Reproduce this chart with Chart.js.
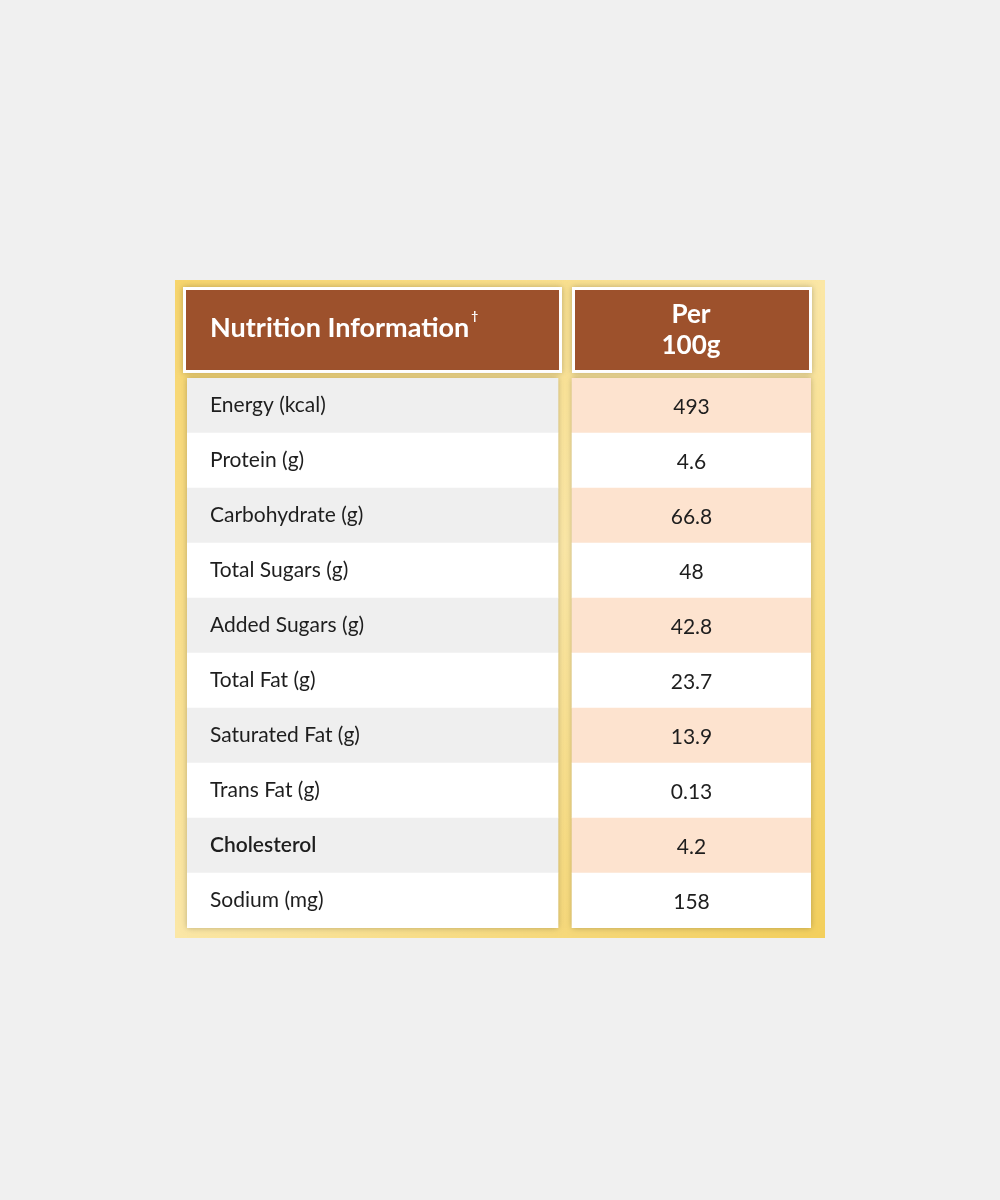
<!DOCTYPE html>
<html>
<head>
<meta charset="utf-8">
<script src="https://cdn.jsdelivr.net/npm/chart.js@4"></script>
<style>
  html, body { margin: 0; background: #f0f0f0; width: 1000px; height: 1200px; }
  #wrap { position: absolute; left: 175px; top: 280px; width: 650px; height: 658px; }
</style>
</head>
<body>
<div id="wrap"><canvas id="nutritionChart" width="650" height="658"></canvas></div>
<script>
const nutrients = [
    "Energy (kcal)", "Protein (g)", "Carbohydrate (g)", "Total Sugars (g)",
    "Added Sugars (g)", "Total Fat (g)", "Saturated Fat (g)", "Trans Fat (g)",
    "Cholesterol", "Sodium (mg)"
];
const per100g = ["493", "4.6", "66.8", "48", "42.8", "23.7", "13.9", "0.13", "4.2", "158"];
const headers = ["Nutrition Information", "Per\n100g"];

const leftColors = nutrients.map((n, i) => i % 2 === 0 ? "#efefef" : "#ffffff");
const rightColors = nutrients.map((n, i) => i % 2 === 0 ? "#fde3cf" : "#ffffff");

const tablePlugin = {
    id: "tablePlugin",
    beforeDraw(chart) {
        const c = chart.ctx;
        const g = c.createLinearGradient(0, 0, chart.width, chart.height);
        g.addColorStop(0, "#f7d56c");
        g.addColorStop(0.5, "#fbe7a6");
        g.addColorStop(1, "#f3cf5c");
        c.fillStyle = g;
        c.fillRect(0, 0, chart.width, chart.height);
        // header boxes
        c.save();
        c.shadowColor = "rgba(0,0,0,0.25)";
        c.shadowBlur = 6;
        c.fillStyle = "#ffffff";
        c.fillRect(8, 7, 379, 86);
        c.fillRect(397, 7, 240, 86);
        c.restore();
        c.fillStyle = "#9d512c";
        c.fillRect(11, 10, 373, 80);
        c.fillRect(400, 10, 234, 80);
        // shadow behind body columns
        c.save();
        c.shadowColor = "rgba(0,0,0,0.25)";
        c.shadowBlur = 6;
        const area = chart.chartArea;
        c.fillStyle = "#ffffff";
        c.fillRect(area.left, area.top, 371, area.bottom - area.top);
        c.fillRect(area.left + 385, area.top, 239, area.bottom - area.top);
        c.restore();
    },
    afterDraw(chart) {
        const c = chart.ctx;
        const y = chart.scales.y;
        const x = chart.scales.x;
        c.fillStyle = "#ffffff";
        c.font = "bold 27px Lato";
        c.textBaseline = "middle";
        c.textAlign = "left";
        c.fillText(headers[0], 35, 48);
        const w = c.measureText(headers[0]).width;
        c.font = "bold 12px Lato";
        c.fillText("\u2020", 35 + w + 2, 36);
        c.font = "bold 26px Lato";
        c.textAlign = "center";
        const lines = headers[1].split("\n");
        c.fillText(lines[0], 516, 35);
        c.fillText(lines[1], 516, 66);
        c.fillStyle = "#1e1e1e";
        nutrients.forEach((n, i) => {
            const py = y.getPixelForValue(i);
            c.font = (n === "Cholesterol" ? "600 " : "") + "21px Lato";
            c.textAlign = "left";
            c.fillText(n, x.getPixelForValue(0) + 23, py);
            c.font = "21px Lato";
            c.textAlign = "center";
            c.fillText(per100g[i], x.getPixelForValue(504.5), py + 2);
        });
    }
};

new Chart(document.getElementById("nutritionChart").getContext("2d"), {
    type: "bar",
    data: {
        labels: nutrients,
        datasets: [
            { data: nutrients.map(() => [0, 371]), backgroundColor: leftColors, barPercentage: 1, categoryPercentage: 1 },
            { data: per100g.map(() => [385, 624]), backgroundColor: rightColors, barPercentage: 1, categoryPercentage: 1 }
        ]
    },
    options: {
        indexAxis: "y",
        responsive: false,
        animation: false,
        layout: { padding: { top: 98, bottom: 10, left: 12, right: 14 } },
        plugins: { legend: { display: false }, tooltip: { enabled: false } },
        scales: {
            x: { display: false, min: 0, max: 624 },
            y: { display: false, stacked: true }
        }
    },
    plugins: [tablePlugin]
});
</script>
</body>
</html>
